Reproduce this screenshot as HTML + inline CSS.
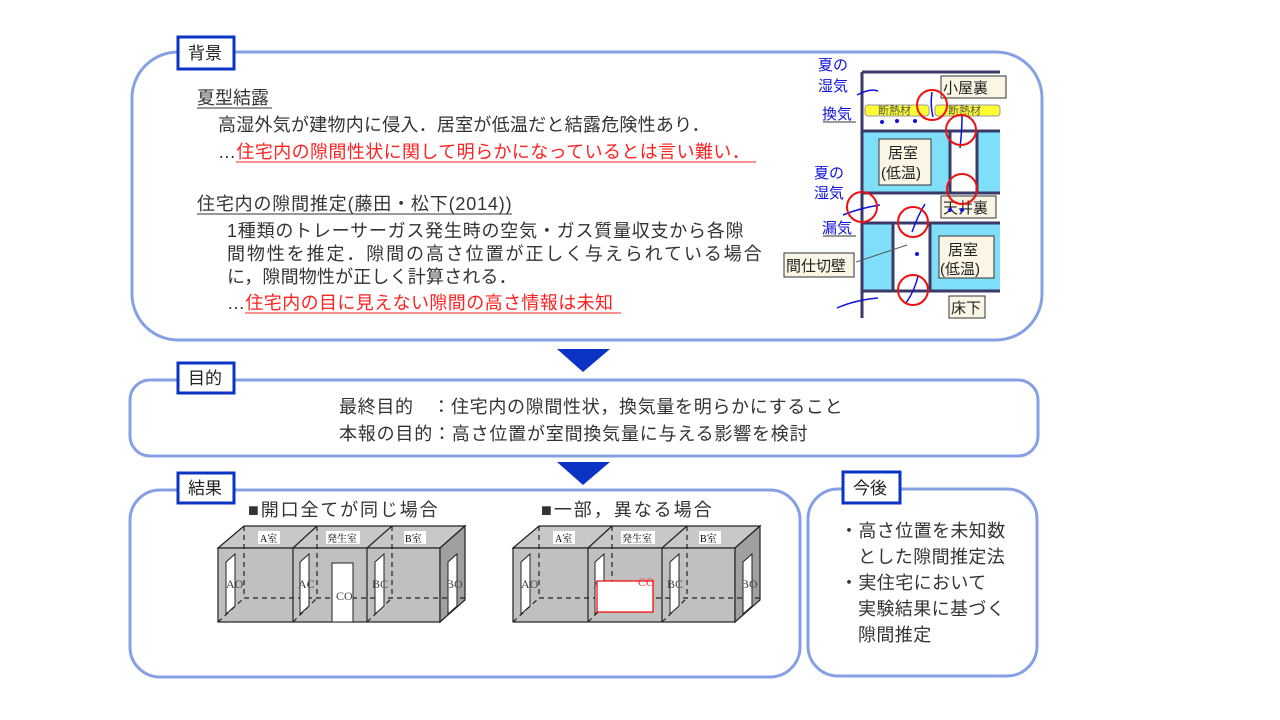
<!DOCTYPE html>
<html><head><meta charset="utf-8"><style>
body{margin:0;width:1280px;height:720px;background:#fff;overflow:hidden;font-family:"Liberation Sans","Noto Sans CJK JP",sans-serif;}
</style></head><body>
<svg width="1280" height="720" style="position:absolute;left:0;top:0" font-family="Liberation Sans, Noto Sans CJK JP, sans-serif">
<defs>
<g id="cube">
 <polygon points="218,548 244,526 465,526 440,548" fill="#c8c8c8" stroke="#222" stroke-width="1.2"/>
 <rect x="218" y="548" width="222" height="74" fill="#c0c0c0" stroke="#222" stroke-width="1.2"/>
 <polygon points="440,548 465,526 465,600 440,622" fill="#a0a0a0" stroke="#222" stroke-width="1.2"/>
 <line x1="293" y1="548" x2="317" y2="526" stroke="#222" stroke-width="1.2"/>
 <line x1="367" y1="548" x2="392" y2="526" stroke="#222" stroke-width="1.2"/>
 <line x1="293" y1="548" x2="293" y2="622" stroke="#222" stroke-width="1.2"/>
 <line x1="367" y1="548" x2="367" y2="622" stroke="#222" stroke-width="1.2"/>
 <g stroke="#222" stroke-width="1.2" stroke-dasharray="5,4" fill="none">
  <line x1="244" y1="526" x2="244" y2="598"/><line x1="317" y1="526" x2="317" y2="598"/><line x1="392" y1="526" x2="392" y2="598"/>
  <line x1="244" y1="598" x2="465" y2="598"/><line x1="218" y1="622" x2="244" y2="598"/><line x1="293" y1="622" x2="317" y2="598"/><line x1="367" y1="622" x2="392" y2="598"/>
 </g>
 <rect x="258" y="531" width="22" height="13" fill="#fff"/><text x="260" y="542" font-size="10" font-family="Liberation Serif,Noto Serif CJK SC,serif">A室</text>
 <rect x="326" y="531" width="34" height="13" fill="#fff"/><text x="327" y="542" font-size="10" font-family="Liberation Serif,Noto Serif CJK SC,serif">発生室</text>
 <rect x="404" y="531" width="22" height="13" fill="#fff"/><text x="405" y="542" font-size="10" font-family="Liberation Serif,Noto Serif CJK SC,serif">B室</text>
 <polygon points="226,614 226,562 235,554 235,606" fill="#fff" stroke="#222"/>
 <polygon points="300,614 300,562 309,554 309,606" fill="#fff" stroke="#222"/>
 <polygon points="375,614 375,562 384,554 384,606" fill="#fff" stroke="#222"/>
 <polygon points="448,614 448,562 457,554 457,606" fill="#fff" stroke="#222"/>
 <g font-size="12" fill="#444" font-family="Liberation Serif,serif"><text x="226" y="588">AO</text><text x="298" y="588">AC</text><text x="372" y="588">BC</text><text x="446" y="588">BO</text></g>
</g>
</defs>

<rect x="132" y="52" width="910" height="288" rx="46" fill="#fff" stroke="#86a0e4" stroke-width="3"/>
<rect x="130" y="380" width="908" height="76" rx="20" fill="#fff" stroke="#86a0e4" stroke-width="3"/>
<rect x="130" y="490" width="670" height="187" rx="30" fill="#fff" stroke="#86a0e4" stroke-width="3"/>
<rect x="808" y="489" width="229" height="187" rx="30" fill="#fff" stroke="#86a0e4" stroke-width="3"/>
<g fill="#fff" stroke="#0b33c4" stroke-width="3">
<rect x="178" y="37" width="56" height="32"/><rect x="178" y="363" width="56" height="30"/><rect x="178" y="473" width="56" height="30"/><rect x="843" y="472" width="57" height="31"/>
</g>
<g font-size="17" fill="#222"><text x="188" y="59">背景</text><text x="188" y="384">目的</text><text x="188" y="494">結果</text><text x="853" y="494">今後</text></g>
<polygon points="557,349 610,349 583,372" fill="#0b33c4"/>
<polygon points="557,462 610,462 583,485" fill="#0b33c4"/>

<g font-size="18" fill="#333" letter-spacing="0.4">
<text x="197" y="104" letter-spacing="0">夏型結露</text><line x1="197" y1="108" x2="272" y2="108" stroke="#333"/>
<text x="218" y="131" textLength="492">高湿外気が建物内に侵入．居室が低温だと結露危険性あり．</text>
<text x="218" y="158">…<tspan fill="#ff2020">住宅内の隙間性状に関して明らかになっているとは言い難い．</tspan></text>
<line x1="236" y1="162" x2="756" y2="162" stroke="#ff2020"/>
<text x="197" y="210" textLength="315">住宅内の隙間推定(藤田・松下(2014))</text><line x1="197" y1="214" x2="512" y2="214" stroke="#333"/>
<text x="227" y="237" textLength="517">1種類のトレーサーガス発生時の空気・ガス質量収支から各隙</text>
<text x="227" y="260" textLength="535">間物性を推定．隙間の高さ位置が正しく与えられている場合</text>
<text x="227" y="283" textLength="290">に，隙間物性が正しく計算される．</text>
<text x="227" y="309">…<tspan fill="#ff2020">住宅内の目に見えない隙間の高さ情報は未知</tspan></text>
<line x1="245" y1="313" x2="621" y2="313" stroke="#ff2020"/>
<text x="339" y="413" textLength="504">最終目的　：住宅内の隙間性状，換気量を明らかにすること</text>
<text x="339" y="440" textLength="469">本報の目的：高さ位置が室間換気量に与える影響を検討</text>
<text x="248" y="516" textLength="190">■開口全てが同じ場合</text>
<text x="541" y="516" textLength="171">■一部，異なる場合</text>
<text x="840" y="537">・高さ位置を未知数</text>
<text x="858" y="563">とした隙間推定法</text>
<text x="840" y="589">・実住宅において</text>
<text x="858" y="615">実験結果に基づく</text>
<text x="858" y="641">隙間推定</text>
</g>

<use href="#cube"/>
<rect x="332" y="563" width="21" height="59" fill="#fff" stroke="#222"/>
<text x="336" y="600" font-size="12" fill="#444" font-family="Liberation Serif,serif">CO</text>
<g transform="translate(295,0)"><use href="#cube"/></g>
<rect x="597" y="581" width="56" height="31" fill="#fff" stroke="#e00" stroke-width="1.2"/>
<text x="638" y="586" font-size="12" fill="#f33" font-family="Liberation Serif,serif">CO</text>

<rect x="862" y="131" width="138" height="62" fill="#80dff8"/>
<rect x="950" y="131" width="27" height="62" fill="#fff"/>
<rect x="862" y="223" width="138" height="68" fill="#80dff8"/>
<rect x="893" y="223" width="37" height="68" fill="#fff"/>
<g stroke="#3a3a6a" stroke-width="3" fill="none">
<line x1="862" y1="72" x2="862" y2="318"/><line x1="862" y1="72" x2="1000" y2="72"/>
<line x1="862" y1="131" x2="1000" y2="131"/><line x1="862" y1="193" x2="1000" y2="193"/>
<line x1="862" y1="223" x2="1000" y2="223"/><line x1="862" y1="291" x2="1000" y2="291"/>
<line x1="950" y1="131" x2="950" y2="193"/><line x1="977" y1="131" x2="977" y2="193"/>
<line x1="893" y1="223" x2="893" y2="291"/><line x1="930" y1="223" x2="930" y2="291"/>
</g>
<rect x="865" y="105" width="64" height="11" rx="3" fill="#ffff33" stroke="#999"/>
<rect x="935" y="105" width="65" height="11" rx="3" fill="#ffff33" stroke="#999"/>
<g font-size="11" fill="#555"><text x="878" y="114">断熱材</text><text x="948" y="114">断熱材</text></g>
<g fill="#faf5e4" stroke="#333">
<rect x="941" y="76" width="65" height="22"/><rect x="879" y="139" width="52" height="46"/>
<rect x="941" y="196" width="55" height="22"/><rect x="939" y="236" width="55" height="42"/>
<rect x="784" y="253" width="70" height="24"/><rect x="949" y="296" width="36" height="22"/>
</g>
<g font-size="15" fill="#222">
<text x="943" y="93">小屋裏</text><text x="888" y="158">居室</text><text x="881" y="178">(低温)</text>
<text x="943" y="213">天井裏</text><text x="948" y="255">居室</text><text x="940" y="274">(低温)</text>
<text x="786" y="271">間仕切壁</text><text x="951" y="313">床下</text>
</g>
<g font-size="15" fill="#1010dd">
<text x="818" y="70">夏の</text><text x="818" y="91">湿気</text><text x="822" y="119">換気</text>
<text x="814" y="178">夏の</text><text x="814" y="198">湿気</text><text x="822" y="233">漏気</text>
</g>
<line x1="823" y1="122" x2="856" y2="122" stroke="#333"/><line x1="823" y1="236" x2="856" y2="236" stroke="#333"/>
<line x1="856" y1="262" x2="907" y2="245" stroke="#555"/>
<g stroke="#1010dd" stroke-width="1.5" fill="none">
<path d="M857 95 Q870 88 878 91"/><path d="M843 215 Q860 208 880 205"/><path d="M837 308 Q855 300 878 298"/>
<path d="M932 92 Q930 105 933 117"/><path d="M962 116 Q962 130 960 148"/><path d="M925 204 Q918 215 912 232"/><path d="M906 303 Q915 290 918 276"/>
</g>
<g fill="#1010dd"><circle cx="882" cy="122" r="2"/><circle cx="897" cy="121" r="2"/><circle cx="915" cy="121" r="2"/><circle cx="950" cy="210" r="2"/><circle cx="962" cy="210" r="2"/><circle cx="917" cy="254" r="2"/></g>
<g fill="none" stroke="#ee1111" stroke-width="2">
<circle cx="932" cy="105" r="15"/><circle cx="961" cy="130" r="15"/><circle cx="962" cy="189" r="15"/>
<circle cx="862" cy="207" r="15"/><circle cx="913" cy="222" r="15"/><circle cx="913" cy="290" r="15"/>
</g>
</svg>
</body></html>
